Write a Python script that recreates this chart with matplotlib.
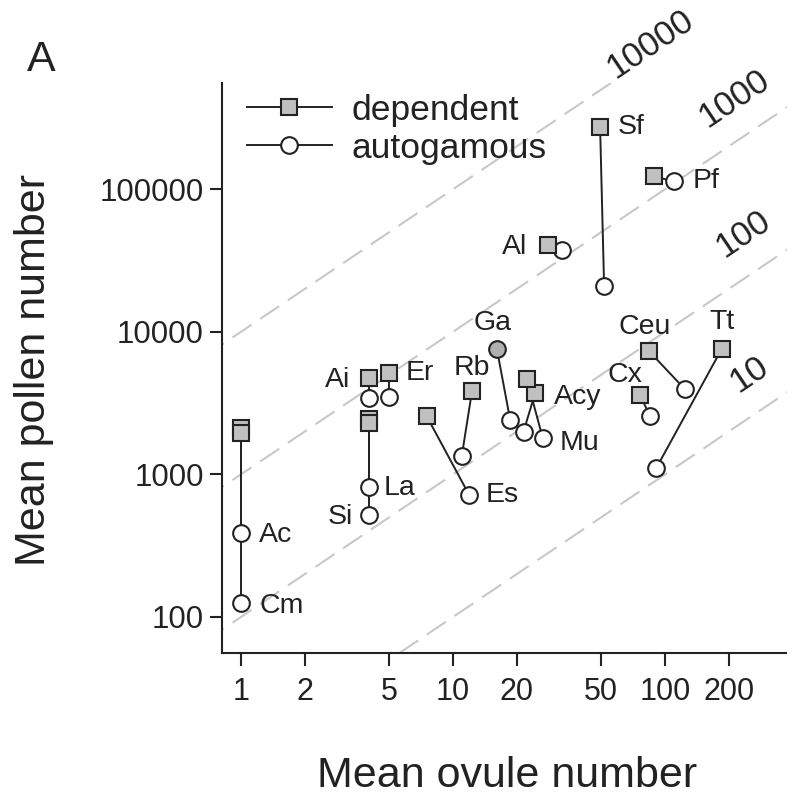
import numpy as np
from matplotlib import pyplot as plt
from matplotlib.lines import Line2D

plt.rcParams["font.family"] = ["Liberation Sans", "DejaVu Sans"]

# species codes
species = ["Ac", "Cm", "Ai", "Er", "La", "Si", "Es", "Rb", "Ga",
           "Acy", "Mu", "Al", "Sf", "Pf", "Cx", "Ceu", "Tt"]

# pollinator dependent populations
dep_ovules = [1, 1, 4, 5, 4, 4, 7.5, 12.3, 16.1,
              24.4, 22.3, 28.2, 49.4, 88.8, 76.2, 84.3, 185]
dep_pollen = [2120, 1945, 4730, 5130, 2440, 2290, 2570, 3870, 7570,
              3720, 4660, 40800, 272000, 123000, 3610, 7280, 7570]

# autogamous populations
aut_ovules = [1, 1, 4, 5, 4, 4, 11.9, 11.0, 18.6,
              21.5, 26.5, 32.6, 51.6, 110, 85, 124, 90.7]
aut_pollen = [386, 125, 3430, 3480, 820, 520, 720, 1350, 2410,
              1995, 1795, 37200, 20800, 113500, 2550, 3960, 1100]

# pollen/ovule ratio isolines
ratios = [10, 100, 1000, 10000]

x_ticks = [1, 2, 5, 10, 20, 50, 100, 200]
y_ticks = [100, 1000, 10000, 100000]

ink = "#222222"
grey_fill = "#c0c0c0"

fig = plt.figure(figsize=(7.87, 8.01), dpi=100)
ax = fig.add_axes([0.2821, 0.1848, 0.7344, 0.7116])
ax.set_xscale("log")
ax.set_yscale("log")
ax.set_xlim(0.8135, 433)
ax.set_ylim(55.9, 556000)

# ratio lines
xx = np.array([0.5, 1000.0])
for r in ratios:
    ax.plot(xx, r * xx, color="#c8c8c8", lw=1.5, dashes=[11, 5], zorder=1)

# label placement of the ratio lines (data coords, baseline-left),
# nudged a little left so the labels stay inside the picture
ratio_lab_pos = {10000: (58, 590000), 1000: (158, 268000),
                 100: (190, 32700), 10: (222, 3730)}
for r in ratios:
    px, py = ratio_lab_pos[r]
    ax.text(px, py, str(r), rotation=33.9, rotation_mode="anchor",
            ha="left", va="baseline", fontsize=25, color=ink, clip_on=False)

# pairs
for i, sp in enumerate(species):
    ax.plot([dep_ovules[i], aut_ovules[i]], [dep_pollen[i], aut_pollen[i]],
            color=ink, lw=1.4, zorder=2)
    ax.plot(aut_ovules[i], aut_pollen[i], "o", ms=12, mfc="white",
            mec=ink, mew=1.5, zorder=3)
    if sp == "Ga":
        ax.plot(dep_ovules[i], dep_pollen[i], "o", ms=12, mfc="#b0b0b0",
                mec=ink, mew=1.5, zorder=4)
    else:
        ax.plot(dep_ovules[i], dep_pollen[i], "s", ms=11.5, mfc=grey_fill,
                mec=ink, mew=1.5, zorder=4)

# species labels: (which point, dx px, dy px, ha)
lab_pos = {
    "Ac": ("aut", 18, -2, "left"), "Cm": ("aut", 18, -3, "left"),
    "Ai": ("dep", -18, -2, "right"), "Er": ("dep", 16, 0, "left"),
    "La": ("aut", 15, -1, "left"), "Si": ("aut", -16, -2, "right"),
    "Es": ("aut", 17, 0, "left"), "Rb": ("dep", 0, 23, "center"),
    "Ga": ("dep", -4, 26, "center"), "Acy": ("dep", 19, -4, "left"),
    "Mu": ("aut", 17, -5, "left"), "Al": ("dep", -21, -2, "right"),
    "Sf": ("dep", 18, 0, "left"), "Pf": ("aut", 19, 0, "left"),
    "Cx": ("dep", -15, 20, "center"), "Ceu": ("dep", -5, 24, "center"),
    "Tt": ("dep", 0, 27, "center"),
}
for i, sp in enumerate(species):
    which, dx, dy, ha = lab_pos[sp]
    if which == "dep":
        xy = (dep_ovules[i], dep_pollen[i])
    else:
        xy = (aut_ovules[i], aut_pollen[i])
    ax.annotate(sp, xy, xytext=(dx, dy), textcoords="offset pixels",
                ha=ha, va="center", fontsize=20.5, color=ink, zorder=5)

# axes styling
for s in ["top", "right"]:
    ax.spines[s].set_visible(False)
for s in ["left", "bottom"]:
    ax.spines[s].set_linewidth(1.5)
    ax.spines[s].set_color(ink)
ax.set_xticks(x_ticks, [str(t) for t in x_ticks])
ax.set_yticks(y_ticks, [str(t) for t in y_ticks])
ax.minorticks_off()
ax.tick_params(axis="x", length=9, width=1.5, pad=8, labelsize=22,
               colors=ink)
ax.tick_params(axis="y", length=9, width=1.5, pad=4, labelsize=22.5,
               colors=ink)

ax.set_xlabel("Mean ovule number", fontsize=31, color=ink)
ax.xaxis.set_label_coords(0.493, -0.18)
ax.set_ylabel("Mean pollen number", fontsize=31, color=ink)
ax.yaxis.set_label_coords(-0.29, 0.4965)

handles = [
    Line2D([], [], color=ink, lw=1.4, marker="s", ms=11.5, mfc=grey_fill,
           mec=ink, mew=1.5),
    Line2D([], [], color=ink, lw=1.4, marker="o", ms=12, mfc="white",
           mec=ink, mew=1.5),
]
ax.legend(handles, ["dependent", "autogamous"], loc="upper left",
          bbox_to_anchor=(0.0, 1.025), frameon=False, fontsize=25.5,
          handlelength=2.4, handletextpad=0.55, labelspacing=0.15,
          borderpad=0.2, labelcolor=ink)

fig.text(41 / 787, 1 - 60 / 801, "A", fontsize=31, color=ink,
         ha="center", va="center")

fig.savefig("out.png", dpi=100)
